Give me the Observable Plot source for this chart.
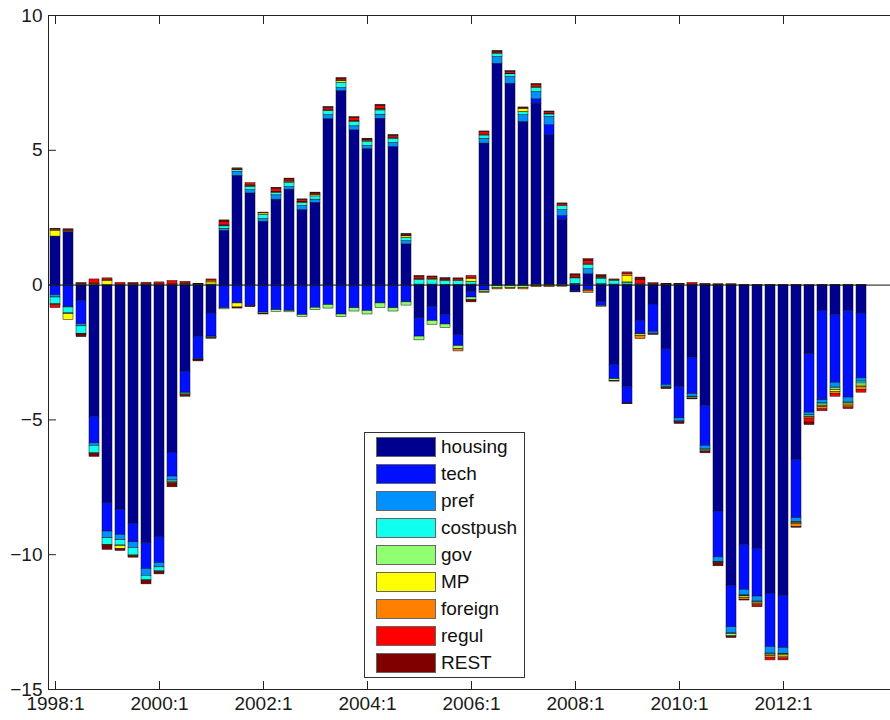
<!DOCTYPE html>
<html>
<head>
<meta charset="utf-8">
<script src="https://cdn.jsdelivr.net/npm/d3@7"></script>
<script src="https://cdn.jsdelivr.net/npm/@observablehq/plot@0.6"></script>
<style>
  html, body { margin: 0; padding: 0; background: #fff; }
  #wrap { position: relative; width: 890px; height: 720px; overflow: hidden; font-family: "Liberation Sans", Arial, sans-serif; }
  #legend { position: absolute; left: 364px; top: 432px; width: 161px; height: 246px; border: 1px solid #333; background: #fff; box-sizing: border-box; }
  .item { position: absolute; left: 11px; height: 20px; display: flex; align-items: center; }
  .sw { width: 60px; height: 20px; box-sizing: border-box; border: 0.5px solid #666; }
  .lab { margin-left: 5px; font-size: 19px; color: #111; line-height: 20px; }
</style>
</head>
<body>
<div id="wrap"><div id="chart"></div><div id="legend"></div></div>
<script>
// Series names and colours (MATLAB jet)
const seriesNames = ["housing", "tech", "pref", "costpush", "gov", "MP", "foreign", "regul", "REST"];
const seriesColors = ["#00008F", "#0010FF", "#0090FF", "#10FFEF", "#90FF70", "#FFFF00", "#FF8000", "#FF0000", "#800000"];

// Quarters 1998:1 .. 2013:3
const quarters = [];
for (let y = 1998; y <= 2013; y++) for (let q = 1; q <= 4; q++) quarters.push(`${y}:${q}`);
quarters.length = 63;
const xTicks = ["1998:1", "2000:1", "2002:1", "2004:1", "2006:1", "2008:1", "2010:1", "2012:1"];
const yTicks = [10, 5, 0, -5, -10, -15];

const housing = [1.8, 1.97, -0.59, -4.88, -8.09, -8.33, -8.85, -9.57, -9.35, -6.21, -3.21, -1.91, -1.05, 2.01, 4.05, 3.4, 2.35, 3.17, 3.54, 2.78, 3.05, 6.15, 7.19, 5.74, 5.04, 6.17, 5.12, 1.51, -1.23, -0.8, -1.11, -1.85, -0.25, 5.25, 8.21, 7.47, 6.05, 6.73, 5.56, 2.41, -0.2, 0.4, -0.62, -2.96, -3.77, -1.32, -0.72, -2.38, -3.77, -2.69, -4.48, -8.4, -11.15, -9.63, -9.78, -11.44, -11.52, -6.48, -2.56, -0.96, -1.11, -0.96, -1.05];
const tech = [-0.37, -0.8, -0.86, -0.99, -1.05, -0.93, -0.69, -0.96, -0.96, -0.89, -0.78, -0.84, -0.86, -0.86, -0.68, -0.78, -1.02, -0.93, -0.96, -1.11, -0.84, -0.74, -1.09, -0.86, -0.96, -0.68, -0.86, -0.64, -0.68, -0.53, -0.35, -0.41, -0.21, -0.2, -0.04, -0.03, -0.03, 0.16, 0.37, 0.15, -0.05, -0.19, -0.16, -0.53, -0.62, -0.49, -1.01, -1.32, -1.17, -1.35, -1.48, -1.7, -1.54, -1.67, -1.77, -1.98, -1.94, -2.16, -2.17, -3.31, -2.51, -3.21, -2.41];
const pref = [-0.09, -0.03, -0.08, -0.09, -0.25, -0.2, -0.21, -0.25, -0.16, -0.15, -0.04, -0.02, -0.02, 0.08, 0.15, 0.12, 0.1, 0.16, 0.1, 0.15, 0.12, 0.15, 0.12, 0.15, 0.12, 0.15, 0.15, 0.12, 0.02, 0.02, 0.01, 0.01, 0.02, 0.18, 0.25, 0.25, 0.25, 0.27, 0.31, 0.22, 0.05, 0.19, 0.04, 0.02, 0.02, 0.01, -0.07, -0.09, -0.12, -0.1, -0.12, -0.17, -0.23, -0.21, -0.19, -0.25, -0.22, -0.15, -0.1, -0.11, -0.15, -0.16, -0.12];
const costpush = [-0.25, -0.22, -0.28, -0.28, -0.25, -0.2, -0.28, -0.17, -0.15, -0.05, 0.01, 0.01, 0.02, 0.09, 0.06, 0.12, 0.15, 0.09, 0.15, 0.12, 0.12, 0.15, 0.19, 0.16, 0.15, 0.16, 0.16, 0.12, 0.17, 0.16, 0.14, 0.14, 0.1, 0.12, 0.12, 0.1, 0.12, 0.16, 0.09, 0.15, 0.2, 0.16, 0.2, 0.14, 0.06, 0.03, 0.01, -0.02, -0.02, -0.03, -0.05, -0.02, -0.03, -0.02, -0.02, -0.02, -0.02, -0.02, -0.05, -0.05, -0.06, -0.05, -0.07];
const gov = [-0.02, -0.03, -0.02, -0.02, -0.02, -0.02, -0.02, -0.02, -0.02, -0.05, -0.05, -0.02, -0.04, -0.04, 0.02, 0.02, -0.04, -0.06, -0.05, -0.07, -0.09, -0.13, -0.1, -0.12, -0.13, -0.17, -0.12, -0.12, -0.14, -0.14, -0.13, -0.12, -0.1, -0.05, -0.08, -0.08, -0.08, -0.03, -0.02, -0.03, 0.02, -0.02, -0.03, -0.06, 0.02, -0.02, -0.02, 0.01, 0.01, -0.04, -0.04, -0.02, -0.08, -0.02, -0.02, -0.02, -0.02, -0.02, -0.02, -0.06, -0.07, -0.05, -0.08];
const MP = [0.22, -0.22, 0.02, 0.03, 0.15, -0.11, 0.02, 0.01, 0.01, 0.01, 0.02, 0.01, 0.08, 0.02, -0.15, 0.02, 0.06, 0.02, 0.03, 0.02, 0.05, 0.02, 0.06, 0.02, 0.04, 0.03, 0.02, 0.06, 0.02, 0.04, 0.02, 0.02, 0.1, 0.03, 0.02, 0.02, 0.12, 0.02, 0.02, 0.02, 0.01, 0.02, 0.02, 0.02, 0.25, -0.06, 0.01, 0.01, 0.01, 0.01, 0.01, 0.01, 0.01, -0.05, -0.04, -0.05, -0.06, -0.03, 0.01, -0.04, -0.06, -0.04, -0.06];
const foreign = [0.04, 0.03, 0.02, 0.03, 0.05, 0.02, 0.03, 0.03, 0.02, 0.02, 0.03, 0.01, 0.07, 0.02, 0.02, 0.02, 0.01, 0.02, 0.03, 0.02, 0.02, 0.02, 0.03, 0.02, 0.02, 0.03, 0.02, 0.02, 0.01, 0.01, 0.01, -0.08, 0.04, -0.04, -0.04, -0.04, -0.05, -0.05, -0.06, -0.03, -0.02, -0.08, 0.02, 0.01, 0.07, -0.11, 0.01, 0.01, 0.01, 0.01, 0.01, 0.01, 0.01, -0.07, -0.06, -0.07, -0.07, -0.12, -0.05, -0.08, -0.09, -0.07, -0.1];
const regul = [-0.12, 0.04, 0.04, 0.15, 0.05, 0.06, 0.03, 0.05, 0.07, 0.12, 0.06, 0.01, 0.04, 0.13, 0.03, 0.08, 0.02, 0.12, 0.07, 0.06, 0.04, 0.08, 0.05, 0.1, 0.03, 0.1, 0.06, 0.04, 0.08, 0.06, 0.04, 0.05, 0.08, 0.09, 0.05, 0.07, 0.02, 0.09, 0.06, 0.05, 0.08, 0.12, 0.04, 0.02, 0.05, 0.14, 0.04, 0.01, 0.01, 0.06, 0.02, 0.01, 0.01, 0.01, -0.07, -0.09, -0.07, 0.01, -0.15, -0.07, -0.09, -0.06, -0.1];
const REST = [0.03, 0.03, -0.1, -0.11, -0.16, -0.07, -0.06, -0.13, -0.09, -0.15, -0.06, -0.04, -0.02, 0.05, -0.04, -0.04, -0.03, 0.03, 0.03, 0.03, 0.03, 0.04, 0.04, 0.04, 0.03, 0.05, 0.04, 0.03, 0.04, 0.03, 0.04, 0.03, -0.08, 0.03, 0.04, 0.03, 0.03, 0.03, 0.03, 0.03, 0.04, 0.07, 0.05, -0.03, -0.03, 0.1, -0.03, -0.05, -0.07, -0.03, -0.07, -0.12, -0.06, -0.03, 0.01, 0.01, 0.01, -0.02, -0.09, 0.01, 0.01, 0.01, 0.01];

const seriesValues = [housing, tech, pref, costpush, gov, MP, foreign, regul, REST];
const data = seriesNames.flatMap((name, j) =>
  seriesValues[j].map((v, i) => ({quarter: quarters[i], series: name, value: v})));

const axisColor = "#222";
const chart = Plot.plot({
  width: 890,
  height: 720,
  marginLeft: 48,
  marginTop: 15,
  marginBottom: 31,
  marginRight: -7,
  style: {fontFamily: "'Liberation Sans', Arial, sans-serif", fontSize: "19px", color: "#1a1a1a", background: "#fff", overflow: "hidden"},
  x: {domain: quarters, paddingInner: 0.2, paddingOuter: 0.495, align: 0.05, label: null},
  y: {domain: [-15, 10], label: null},
  color: {domain: seriesNames, range: seriesColors},
  marks: [
    Plot.barY(data, {x: "quarter", y: "value", fill: "series", stroke: "#111", strokeWidth: 0.5}),
    Plot.ruleY([0], {stroke: "#111", strokeWidth: 1}),
    Plot.frame({stroke: axisColor, strokeWidth: 1}),
    Plot.axisX({anchor: "bottom", ticks: xTicks, tickSize: 0, tickPadding: 7, label: null}),
    Plot.axisX({anchor: "bottom", ticks: xTicks, tickSize: 8, dy: -8, tickFormat: () => "", label: null, stroke: axisColor}),
    Plot.axisX({anchor: "top", ticks: xTicks, tickSize: 8, dy: 8, tickFormat: () => "", label: null, stroke: axisColor}),
    Plot.axisY({anchor: "left", ticks: yTicks, tickSize: 0, tickPadding: 6, label: null}),
    Plot.axisY({anchor: "left", ticks: yTicks, tickSize: 8, dx: 8, tickFormat: () => "", label: null, stroke: axisColor})
  ]
});
document.getElementById("chart").appendChild(chart);

// Legend (inside the axes, as in the original)
const legend = document.getElementById("legend");
seriesNames.forEach((name, j) => {
  const item = document.createElement("div");
  item.className = "item";
  item.style.top = (4 + j * 27) + "px";
  const sw = document.createElement("div");
  sw.className = "sw";
  sw.style.background = seriesColors[j];
  const lab = document.createElement("span");
  lab.className = "lab";
  lab.textContent = name;
  item.appendChild(sw);
  item.appendChild(lab);
  legend.appendChild(item);
});
</script>
</body>
</html>
